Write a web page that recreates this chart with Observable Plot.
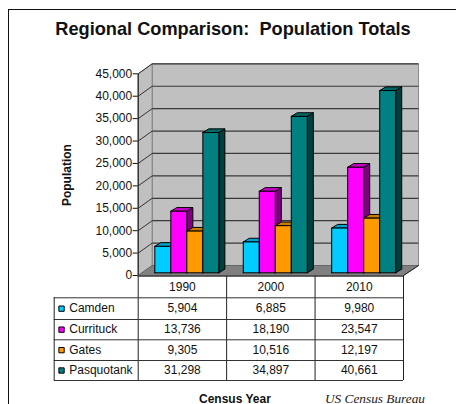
<!DOCTYPE html>
<html><head><meta charset="utf-8">
<script src="https://cdn.jsdelivr.net/npm/d3@7"></script>
<script src="https://cdn.jsdelivr.net/npm/@observablehq/plot@0.6"></script>
<style>
html,body{margin:0;padding:0;background:#fff;overflow:hidden}
#root{position:relative;width:456px;height:404px;overflow:hidden;font-family:"Liberation Sans",Arial,sans-serif;color:#000}
#frame{position:absolute;left:8px;top:9px;width:460px;height:420px;border:1.5px solid #111;box-sizing:border-box}
#title{position:absolute;left:0;top:20px;width:466px;text-align:center;font-weight:bold;font-size:18.2px;white-space:pre;line-height:19px;color:#111}
.cap{position:absolute;white-space:pre;line-height:10px}
svg{position:absolute;left:0;background:transparent!important}
</style></head>
<body><div id="root">
<div id="frame"></div>
<div id="title">Regional Comparison:  Population Totals</div>
<div class="cap" style="left:199px;top:394px;font-weight:bold;font-size:12px;color:#111">Census Year</div>
<div class="cap" style="left:325px;top:394px;font-family:'Liberation Serif',serif;font-style:italic;font-size:13.3px;color:#222">US Census Bureau</div>
</div>
<script>
const years = ["1990", "2000", "2010"];
const seriesNames = ["Camden", "Currituck", "Gates", "Pasquotank"];
const camden = [5904, 6885, 9980];
const currituck = [13736, 18190, 23547];
const gates = [9305, 10516, 12197];
const pasquotank = [31298, 34897, 40661];
const seriesValues = [camden, currituck, gates, pasquotank];
const frontColors = ["#00ccff", "#ff00ff", "#ff9900", "#008080"];
const topColors = ["#00a3cc", "#cc00cc", "#cc7a00", "#006666"];
const sideColors = ["#007a99", "#800080", "#804d00", "#003f3f"];
const yTicks = [0, 5000, 10000, 15000, 20000, 25000, 30000, 35000, 40000, 45000];

// Layout constants expressed in scale units
const wallDX = 0.158, wallDY = 2228, wallRight = 3.17;
const barStart = 0.188, barW = 0.181, barLift = 600, sideDX = 0.068, sideDY = 820;

const poly = (pts, fill, stroke, strokeWidth = 1) =>
  Plot.line([...pts, pts[0]], {x: "0", y: "1", fill, stroke, strokeWidth});

const yMax = yTicks[yTicks.length - 1];
const marks = [
  // back wall, left wall, floor
  poly([[wallDX, wallDY], [wallRight, wallDY], [wallRight, yMax + wallDY], [wallDX, yMax + wallDY]], "#c0c0c0", "#8a8a8a", 1),
  poly([[0, 0], [wallDX, wallDY], [wallDX, yMax + wallDY], [0, yMax]], "#c0c0c0", "#808080", 1),
  poly([[0, 0], [wallDX, wallDY], [wallRight, wallDY], [3, 0]], "#808080", "#666", 1),
  Plot.link(yTicks.slice(1), {x1: wallDX, x2: wallRight, y1: d => d + wallDY, y2: d => d + wallDY, stroke: "#3a3a3a", strokeWidth: 1.2}),
  Plot.link(yTicks.slice(1), {x1: 0, x2: wallDX, y1: d => d, y2: d => d + wallDY, stroke: "#333", strokeWidth: 1}),
  Plot.link([[3, 0, wallRight, wallDY]], {x1: "0", y1: "1", x2: "2", y2: "3", stroke: "#222", strokeWidth: 1})
];
years.forEach((yr, g) => {
  seriesValues.forEach((vals, s) => {
    const x0 = g + barStart + s * barW, x1 = x0 + barW, b = barLift, t = vals[g] + barLift;
    marks.push(
      poly([[x1, b], [x1 + sideDX, b + sideDY], [x1 + sideDX, t + sideDY], [x1, t]], sideColors[s], "#000"),
      poly([[x0, t], [x0 + sideDX, t + sideDY], [x1 + sideDX, t + sideDY], [x1, t]], topColors[s], "#000"),
      poly([[x0, b], [x1, b], [x1, t], [x0, t]], frontColors[s], "#000")
    );
  });
});
marks.push(
  Plot.ruleX([0], {y1: 0, y2: yMax, stroke: "#222", strokeWidth: 1.2}),
  Plot.axisY({ticks: yTicks, tickFormat: d3.format(","), tickSize: 5, tickPadding: 1, label: null, anchor: "left", fill: "#111", stroke: "#111"}),
  Plot.text(["Population"], {x: -0.8, y: 22400, text: d => d, rotate: -90, fontWeight: "bold", fontSize: 12, fill: "#111"})
);
const chart = Plot.plot({
  width: 456, height: 276, marginLeft: 137.7, marginRight: 53, marginTop: 73.3, marginBottom: 1,
  x: {domain: [0, 3], axis: null},
  y: {domain: [0, yMax], axis: null},
  style: {fontFamily: "'Liberation Sans',Arial,sans-serif", fontSize: "12px", background: "transparent", overflow: "visible"},
  marks
});
chart.style.top = "0";

// Data table under the chart
const rows = seriesNames.map((name, s) => ({name, s, row: s + 1}));
const cells = rows.flatMap(r => years.map((yr, g) => ({g, row: r.row, v: seriesValues[r.s][g]})));
const labelX = -0.95, swatchX = -0.867, nameX = -0.78;
const tableLines = [
  Plot.ruleX([0, 1, 2, 3], {y1: 0, y2: 5, stroke: "#222", strokeWidth: 1}),
  Plot.ruleX([labelX], {y1: 1, y2: 5, stroke: "#222", strokeWidth: 1}),
  Plot.ruleY([0], {x1: 0, x2: 3, stroke: "#222", strokeWidth: 1}),
  Plot.ruleY([1, 2, 3, 4, 5], {x1: labelX, x2: 3, stroke: "#333", strokeWidth: 1})
];
const table = Plot.plot({
  width: 456, height: 129, marginLeft: 137.7, marginRight: 53, marginTop: 0, marginBottom: 0,
  x: {domain: [0, 3], axis: null},
  y: {type: "linear", domain: [0, 1, 2, 3, 4, 5], range: [0.7, 22.3, 44, 64.3, 85, 105], axis: null},
  style: {fontFamily: "'Liberation Sans',Arial,sans-serif", fontSize: "12px", background: "transparent", overflow: "visible"},
  marks: [
    ...tableLines,
    Plot.text(years, {x: (d, i) => i + 0.5, y: 0.5, text: d => d, fill: "#111", fontSize: 12}),
    Plot.text(cells, {x: d => d.g + 0.5, y: d => d.row + 0.5, text: d => d3.format(",")(d.v), fill: "#111", fontSize: 12}),
    Plot.text(rows, {x: nameX, y: d => d.row + 0.5, text: "name", textAnchor: "start", fill: "#111", fontSize: 12}),
    Plot.dot(rows, {x: swatchX, y: d => d.row + 0.5, symbol: "square", r: 3, fill: d => frontColors[d.s], stroke: "#000", strokeWidth: 1})
  ],
  color: {type: "identity"}
});
table.style.top = "275px";
const root = document.getElementById("root");
root.appendChild(chart);
root.appendChild(table);
</script>
</body></html>
